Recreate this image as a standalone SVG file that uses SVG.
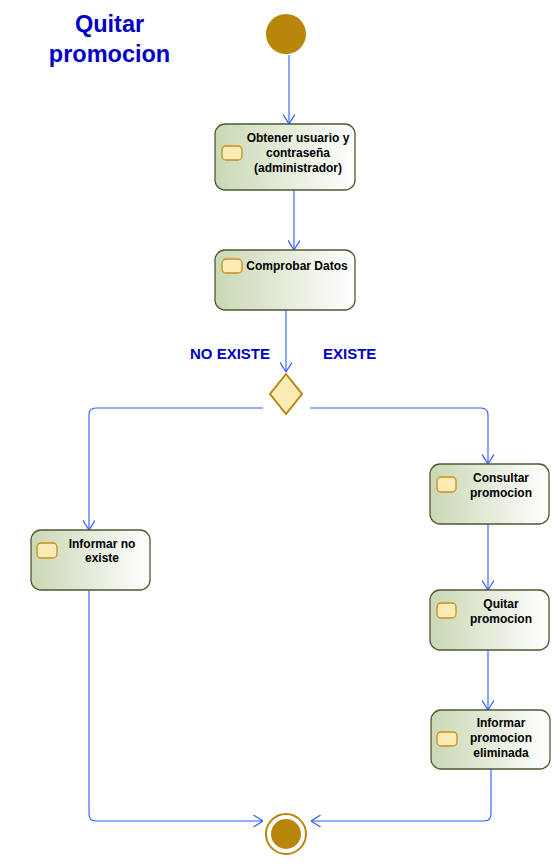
<svg xmlns="http://www.w3.org/2000/svg" width="560" height="868" viewBox="0 0 560 868">
<defs>
<linearGradient id="g" x1="0" y1="0" x2="1" y2="0">
<stop offset="0" stop-color="#cad8b4"/>
<stop offset="1" stop-color="#ffffff"/>
</linearGradient>
<marker id="a" markerUnits="userSpaceOnUse" markerWidth="10" markerHeight="12" viewBox="0 0 8 10" refX="8" refY="5" orient="auto">
<path d="M0,0 L8,5 L0,10" fill="none" stroke="#2d5cff" stroke-width="1"/>
</marker>
</defs>
<style>
.box{fill:url(#g);stroke:#4b5a32;stroke-width:1.3}
.ic{fill:#fdebb5;stroke:#c8901a;stroke-width:1.3}
.t{font-family:"Liberation Sans",Arial,sans-serif;font-weight:bold;font-size:12px;fill:#000;text-anchor:middle}
.lb{font-family:"Liberation Sans",Arial,sans-serif;font-weight:bold;font-size:15px;fill:#0000c0}
.ttl{font-family:"Liberation Sans",Arial,sans-serif;font-weight:bold;font-size:23.5px;fill:#0000c8;text-anchor:middle}
.c{fill:none;stroke:#2d5cff;stroke-width:1.1;marker-end:url(#a)}
</style>
<rect width="560" height="868" fill="#fff"/>
<g id="title">
<text class="ttl" x="109.5" y="32">Quitar</text>
<text class="ttl" x="109.5" y="62">promocion</text>
</g>
<g id="connectors">
<path class="c" d="M289,55 V124"/>
<path class="c" d="M294,190 V250"/>
<path class="c" d="M286,310 V372"/>
<path class="c" d="M263,408 H96 Q89,408 89,415 V530"/>
<path class="c" d="M310,408 H481 Q488,408 488,415 V464"/>
<path class="c" d="M488,524 V590"/>
<path class="c" d="M488,650 V710"/>
<path class="c" d="M89,590 V814 Q89,821 96,821 H263"/>
<path class="c" d="M491,769 V814 Q491,821 484,821 H311"/>
<text class="lb" x="190" y="359">NO EXISTE</text>
<text class="lb" x="323" y="359">EXISTE</text>
</g>
<g id="start">
<circle cx="286" cy="34" r="20" fill="#b8860b"/>
</g>
<g id="n1">
<rect class="box" x="215" y="124" width="140" height="66" rx="10"/>
<rect class="ic" x="222" y="146" width="20" height="14" rx="4"/>
<text class="t" x="298" y="142">Obtener usuario y</text>
<text class="t" x="298" y="157">contraseña</text>
<text class="t" x="298" y="172">(administrador)</text>
</g>
<g id="n2">
<rect class="box" x="215" y="250" width="140" height="60" rx="10"/>
<rect class="ic" x="222" y="259" width="20" height="14" rx="4"/>
<text class="t" x="297" y="270">Comprobar Datos</text>
</g>
<g id="decision">
<polygon points="286,374 302,394 286,414 270,394" fill="#fdebb5" stroke="#b8860b" stroke-width="2"/>
</g>
<g id="n3">
<rect class="box" x="31" y="530" width="119" height="60" rx="10"/>
<rect class="ic" x="37" y="543" width="20" height="15" rx="4"/>
<text class="t" x="102" y="548">Informar no</text>
<text class="t" x="102" y="562">existe</text>
</g>
<g id="n4">
<rect class="box" x="430" y="464" width="119" height="60" rx="10"/>
<rect class="ic" x="437" y="477" width="19" height="15" rx="4"/>
<text class="t" x="501" y="482">Consultar</text>
<text class="t" x="501" y="497">promocion</text>
</g>
<g id="n5">
<rect class="box" x="430" y="590" width="119" height="60" rx="10"/>
<rect class="ic" x="437" y="603" width="19" height="15" rx="4"/>
<text class="t" x="501" y="608">Quitar</text>
<text class="t" x="501" y="623">promocion</text>
</g>
<g id="n6">
<rect class="box" x="431" y="710" width="119" height="59" rx="10"/>
<rect class="ic" x="437" y="732" width="20" height="14" rx="4"/>
<text class="t" x="501" y="727">Informar</text>
<text class="t" x="501" y="742">promocion</text>
<text class="t" x="501" y="757">eliminada</text>
</g>
<g id="end">
<circle cx="286" cy="834" r="20" fill="none" stroke="#b8860b" stroke-width="2"/>
<circle cx="286" cy="834" r="15" fill="#b8860b"/>
</g>
</svg>
